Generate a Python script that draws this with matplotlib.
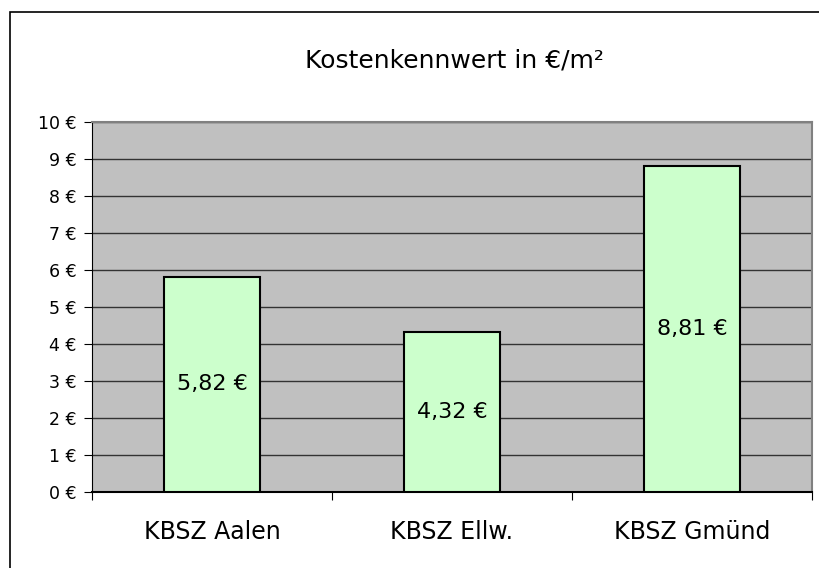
import matplotlib
matplotlib.use("Agg")
import matplotlib.pyplot as plt
from matplotlib.patches import Rectangle

# data
categories = ["KBSZ Aalen", "KBSZ Ellw.", "KBSZ Gmünd"]
values = [5.82, 4.32, 8.81]
value_labels = ["5,82 €", "4,32 €", "8,81 €"]
yticks = list(range(0, 11))
ytick_labels = [f"{t} €" for t in yticks]

plt.rcParams["font.family"] = ["DejaVu Sans"]

W, H = 819, 568
fig = plt.figure(figsize=(W / 100, H / 100), dpi=100)

# outer chart frame (runs off the bottom and right of the picture)
fig.patches.append(Rectangle((10 / W, -0.05), 1.1, 1.05 - 12 / H,
                             transform=fig.transFigure, fill=False,
                             edgecolor="black", linewidth=1.2))

left, right, top, bottom = 92, 812, 122, 492
ax = fig.add_axes([left / W, 1 - bottom / H, (right - left) / W, (bottom - top) / H])
ax.set_facecolor("#C0C0C0")

x = range(len(categories))
ax.bar(x, values, width=0.4, color="#CCFFCC", edgecolor="black", linewidth=1.5, zorder=3)
for xi, v, lab in zip(x, values, value_labels):
    ax.text(xi, v / 2, lab, ha="center", va="center", fontsize=16, zorder=4)

ax.set_xlim(-0.5, len(categories) - 0.5)
ax.set_ylim(0, 10)
ax.set_yticks(yticks)
ax.set_yticklabels(ytick_labels, fontsize=12.5)
ax.yaxis.grid(True, color="#333333", linewidth=1.0)
ax.set_axisbelow(True)

ax.set_xticks([i - 0.5 for i in range(len(categories) + 1)], minor=False)
ax.set_xticklabels([])
ax.set_xticks(list(x), minor=True)
ax.set_xticklabels(categories, minor=True, fontsize=17)
ax.tick_params(axis="x", which="minor", length=0, pad=20)
ax.tick_params(axis="x", which="major", length=6, direction="out", color="black")
ax.tick_params(axis="y", length=6, direction="out", color="black", pad=5)

for s in ["top", "right"]:
    ax.spines[s].set_color("#808080")
    ax.spines[s].set_linewidth(1.5)
ax.spines["left"].set_color("black")
ax.spines["bottom"].set_color("black")
ax.spines["bottom"].set_linewidth(1.5)

fig.text(454 / W, 1 - 60 / H, "Kostenkennwert in €/m²",
         ha="center", va="center", fontsize=18)

fig.savefig("out.png", dpi=100)
